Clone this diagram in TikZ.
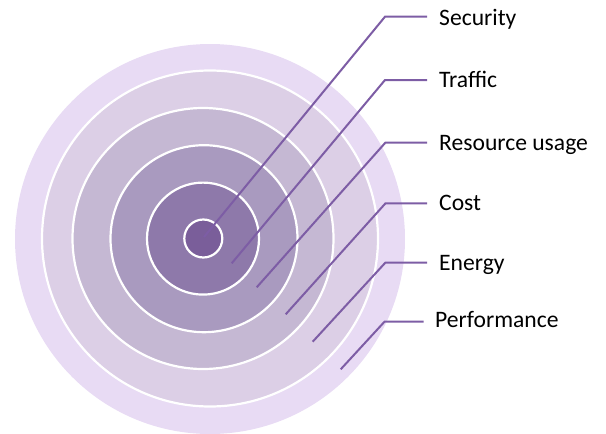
\documentclass[tikz,border=0pt]{standalone}
\usepackage{fontspec}
\setmainfont{Carlito}
\definecolor{cA}{HTML}{E8DBF4}
\definecolor{cB}{HTML}{DCCFE6}
\definecolor{cC}{HTML}{C5B8D3}
\definecolor{cD}{HTML}{A99ABF}
\definecolor{cE}{HTML}{8E79AA}
\definecolor{cF}{HTML}{7A5E9A}
\definecolor{leadc}{HTML}{7D5DA5}
\begin{document}
\begin{tikzpicture}[x=1pt,y=-1pt,
  disc/.style={circle,inner sep=0pt,outer sep=0pt},
  ring/.style={disc,draw=white,line width=2.2pt},
  lead/.style={draw=leadc,line width=2pt},
  lab/.style={anchor=base west,inner sep=0pt,font=\fontsize{23.6}{28}\selectfont}]
\useasboundingbox (0,0) rectangle (606,434);
\node[disc,fill=cA,minimum size=390pt] (r6) at (210,239) {};
\node[ring,fill=cB,minimum size=336pt] (r5) at (210,238.5) {};
\node[ring,fill=cC,minimum size=261pt] (r4) at (203,238.5) {};
\node[ring,fill=cD,minimum size=187pt] (r3) at (204,238.7) {};
\node[ring,fill=cE,minimum size=112pt] (r2) at (203,238.6) {};
\node[ring,fill=cF,minimum size=38pt] (r1) at (203.3,238.5) {};
% leader lines
\coordinate (s1) at (204,237);   \coordinate (k1) at (385,16.7);  \coordinate (e1) at (427,16.7);
\coordinate (s2) at (231.7,263.3); \coordinate (k2) at (385,80);  \coordinate (e2) at (427,80);
\coordinate (s3) at (256.7,287.3); \coordinate (k3) at (385.5,142.5); \coordinate (e3) at (427,142.5);
\coordinate (s4) at (285.7,314.3); \coordinate (k4) at (385.5,203.3); \coordinate (e4) at (427,203.3);
\coordinate (s5) at (312.7,341.7); \coordinate (k5) at (385.5,262.5); \coordinate (e5) at (427,262.5);
\coordinate (s6) at (340.7,369.3); \coordinate (k6) at (384.5,321.7); \coordinate (e6) at (423.5,321.7);
\foreach \i in {1,...,6} {\draw[lead] (s\i) -- (k\i) -- (e\i);}
% labels
\node[lab] (l1) at (439,25) {Security};
\node[lab] (l2) at (439,87.3) {Traffic};
\node[lab] (l3) at (439,150) {Resource usage};
\node[lab] (l4) at (439,210) {Cost};
\node[lab] (l5) at (439,270) {Energy};
\node[lab] (l6) at (435,327.3) {Performance};
\end{tikzpicture}
\end{document}
